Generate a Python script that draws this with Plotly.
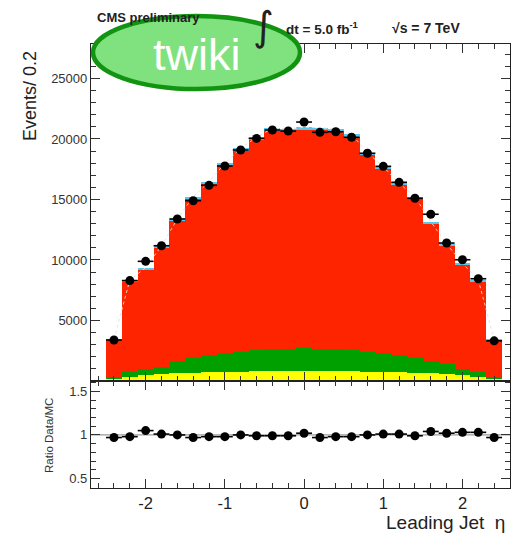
import plotly.graph_objects as go
from plotly.subplots import make_subplots

# ---- data ----
eta = [-2.4, -2.2, -2.0, -1.8, -1.6, -1.4, -1.2, -1.0, -0.8, -0.6, -0.4, -0.2, 0.0,
       0.2, 0.4, 0.6, 0.8, 1.0, 1.2, 1.4, 1.6, 1.8, 2.0, 2.2, 2.4]

bkg_yellow = [190, 360, 470, 580, 630, 690, 720, 740, 770, 800, 800, 830, 830,
              830, 800, 800, 770, 740, 720, 690, 630, 580, 470, 360, 190]
bkg_green = [110, 360, 490, 600, 1020, 1240, 1430, 1550, 1650, 1760, 1820, 1840, 1870,
             1840, 1820, 1760, 1650, 1550, 1430, 1240, 1020, 800, 490, 360, 110]
sig_red = [3090, 7510, 8260, 9850, 11580, 13130, 14140, 15510, 16610, 17380, 18050, 17950, 18050,
           18060, 17970, 17630, 16250, 15230, 14010, 13130, 11360, 9790, 8630, 7510, 3060]
bkg_cyan = [60, 120, 140, 150, 160, 170, 180, 190, 200, 200, 210, 210, 210,
            210, 210, 200, 200, 190, 180, 170, 160, 150, 140, 120, 60]
mc_total = [3450, 8350, 9360, 11180, 13390, 15230, 16470, 17990, 19230, 20140, 20880, 20830, 20960,
            20940, 20800, 20390, 18870, 17710, 16340, 15230, 13170, 11320, 9730, 8350, 3420]

data_events = [3390, 8300, 9890, 11180, 13390, 14900, 16170, 17770, 19090, 20050, 20740, 20660, 21400,
               20550, 20600, 20140, 18820, 17740, 16420, 15100, 13780, 11400, 10020, 8450, 3320]
ratio = [0.97, 0.98, 1.05, 1.01, 1.00, 0.97, 0.98, 0.98, 1.00, 0.99, 0.99, 0.99, 1.02,
         0.97, 0.98, 0.98, 1.00, 1.01, 1.01, 0.99, 1.04, 1.02, 1.03, 1.03, 0.97]

y_ticks = [5000, 10000, 15000, 20000, 25000]
y_ticklabels = ["5000", "10000", "15000", "20000", "25000"]
x_ticks = [-2, -1, 0, 1, 2]
x_ticklabels = ["-2", "-1", "0", "1", "2"]
r_ticks = [0.5, 1, 1.5]
r_ticklabels = ["0.5", "1", "1.5"]

half_bin = [0.1] * len(eta)

# ---- layout geometry (pixels) ----
W, H = 523, 534
L, R, T, B = 91, 510, 44, 488
SPLIT = 381


def px(x):
    return (x - L) / (R - L)


def py(y):
    return (B - y) / (B - T)


split_frac = py(SPLIT)

fig = make_subplots(rows=2, cols=1, shared_xaxes=True, vertical_spacing=0,
                    row_heights=[1 - split_frac, split_frac])

FONT = "Liberation Sans, Arial, Helvetica, sans-serif"

for vals, col in [(bkg_yellow, "#ffff00"), (bkg_green, "#00a000"),
                  (sig_red, "#ff2400"), (bkg_cyan, "#55c8ee")]:
    fig.add_trace(go.Bar(x=eta, y=vals, width=0.2, marker=dict(color=col, line=dict(width=0)),
                         showlegend=False, hoverinfo="skip"), row=1, col=1)

fig.add_trace(go.Scatter(x=eta, y=mc_total, mode="lines",
                         line=dict(color="rgba(225,225,225,0.9)", width=1, dash="dot"),
                         showlegend=False, hoverinfo="skip"), row=1, col=1)

fig.add_trace(go.Scatter(x=eta, y=data_events, mode="markers",
                         marker=dict(color="black", size=9),
                         error_x=dict(type="data", array=half_bin, color="black", thickness=1.6, width=0),
                         showlegend=False), row=1, col=1)

fig.add_trace(go.Scatter(x=eta, y=ratio, mode="markers",
                         marker=dict(color="black", size=9),
                         error_x=dict(type="data", array=half_bin, color="black", thickness=1.6, width=0),
                         showlegend=False), row=2, col=1)

fig.add_shape(type="line", xref="x2 domain", x0=0, x1=1, yref="y2", y0=1, y1=1,
              line=dict(color="#9a9a9a", width=1.2), layer="below")

axis_common = dict(showline=True, linecolor="#222", linewidth=1.2, mirror="allticks",
                   ticks="inside", tickcolor="#333", showgrid=False, zeroline=False,
                   automargin=False)

xcommon = dict(range=[-2.69, 2.6], tickvals=x_ticks, ticktext=x_ticklabels, ticklen=9,
               minor=dict(dtick=0.2, tick0=0, ticklen=5, ticks="inside", tickcolor="#333"),
               **axis_common)
fig.update_xaxes(showticklabels=False, row=1, col=1, **xcommon)
fig.update_xaxes(showticklabels=True, tickfont=dict(size=16.5, color="#222", family=FONT),
                 row=2, col=1, **xcommon)

fig.update_yaxes(range=[0, 27850], tickvals=y_ticks, ticktext=y_ticklabels, ticklen=9,
                 tickfont=dict(size=13, color="#333", family=FONT),
                 minor=dict(dtick=1000, tick0=0, ticklen=5, ticks="inside", tickcolor="#333"),
                 row=1, col=1, **axis_common)
fig.update_yaxes(range=[0.39, 1.62], tickvals=r_ticks, ticktext=r_ticklabels, ticklen=9,
                 tickfont=dict(size=13, color="#333", family=FONT),
                 minor=dict(dtick=0.1, tick0=0, ticklen=5, ticks="inside", tickcolor="#333"),
                 row=2, col=1, **axis_common)

annotations = [
    dict(text="Events/ 0.2", x=px(30), y=py(96), textangle=-90, font=dict(size=18, color="#222")),
    dict(text="Ratio Data/MC", x=px(49), y=py(436), textangle=-90, font=dict(size=11.5, color="#333")),
    dict(text="Leading Jet  η", x=px(507), y=py(522), xanchor="right", font=dict(size=19, color="#222")),
    dict(text="<b>CMS preliminary</b>", x=px(95), y=py(17), xanchor="left", font=dict(size=13, color="#222")),
    dict(text="∫", x=px(263), y=py(26), font=dict(size=40, color="#222", family="DejaVu Sans")),
    dict(text="<b>dt = 5.0 fb<sup>-1</sup></b>", x=px(284), y=py(28), xanchor="left",
         font=dict(size=13.5, color="#222")),
    dict(text="<b>√s = 7 TeV</b>", x=px(390), y=py(28), xanchor="left", font=dict(size=14, color="#222")),
]

fig.add_shape(type="circle", xref="paper", yref="paper",
              x0=px(93), x1=px(300), y0=py(16), y1=py(89),
              fillcolor="#80e27e", line=dict(color="#129412", width=4.5), layer="above")
annotations.append(dict(text="twiki", x=px(197), y=py(54), font=dict(size=45, color="white")))

for a in annotations:
    a["xref"] = "paper"
    a["yref"] = "paper"
    a["showarrow"] = False
    a.setdefault("xanchor", "center")
    a["yanchor"] = "middle"
    a["font"].setdefault("family", FONT)

fig.update_layout(width=W, height=H, margin=dict(l=L, r=W - R, t=T, b=H - B, autoexpand=False),
                  paper_bgcolor="white", plot_bgcolor="white",
                  barmode="stack", bargap=0, annotations=annotations,
                  font=dict(family=FONT))

fig.write_html("out.html", config={"displayModeBar": False},
               post_script="document.body.style.margin='0';")
